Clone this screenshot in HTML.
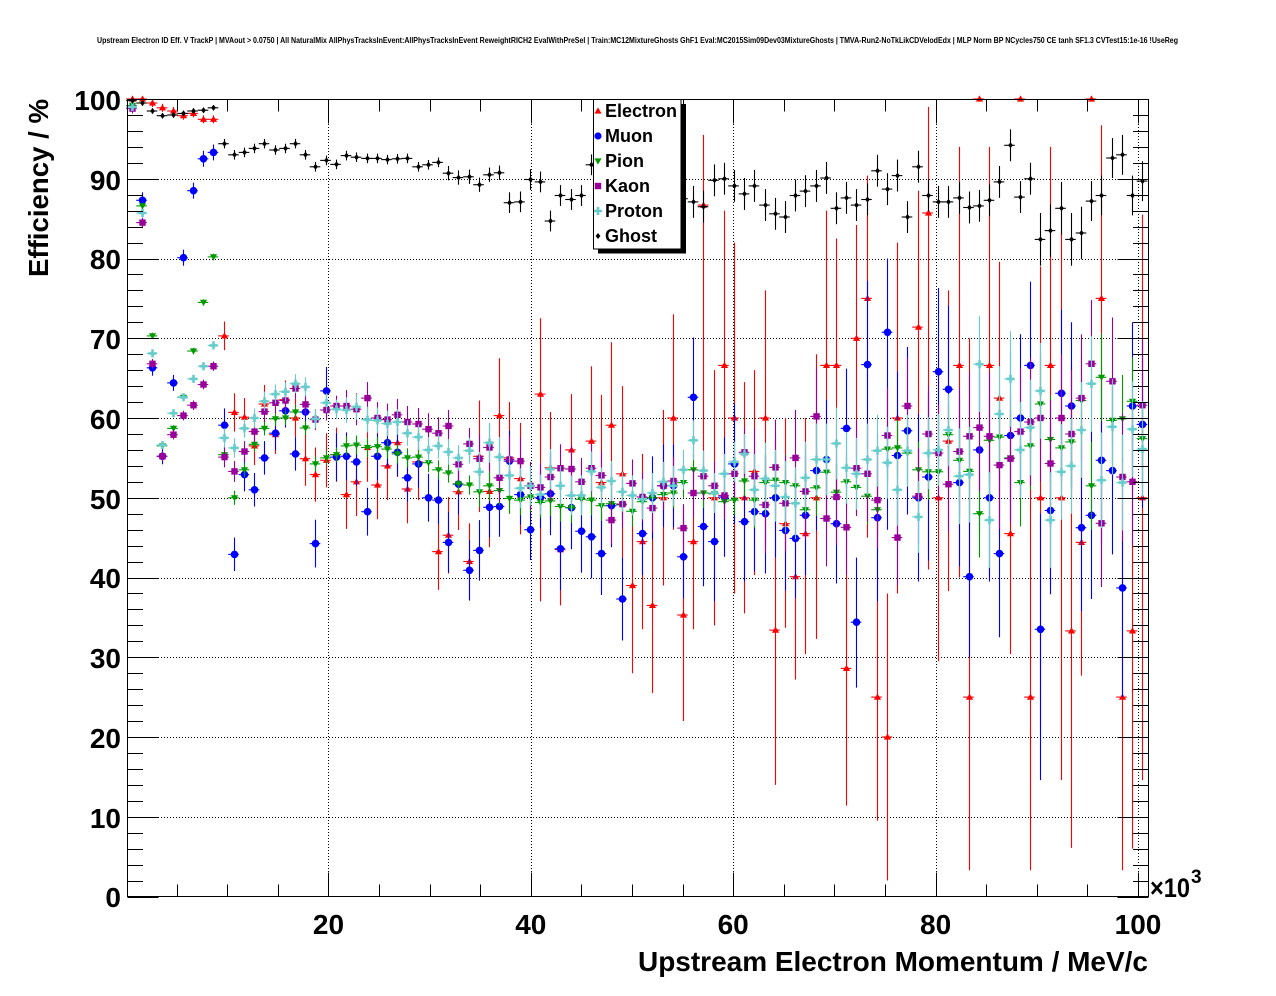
<!DOCTYPE html>
<html>
<head>
<meta charset="utf-8">
<style>
  html,body{margin:0;padding:0;background:#fff;}
  svg{display:block;}
  text{font-family:"Liberation Sans",Arial,Helvetica,sans-serif;font-weight:bold;fill:#000;}
  .g{stroke:#000;stroke-width:1;stroke-dasharray:1 2;fill:none;}
</style>
</head>
<body>
<svg id="c" width="1276" height="996" viewBox="0 0 1276 996" xmlns="http://www.w3.org/2000/svg">
  <rect x="0" y="0" width="1276" height="996" fill="#fff"/>
  <text x="637.5" y="43" font-size="8" text-anchor="middle" textLength="1081" lengthAdjust="spacingAndGlyphs">Upstream Electron ID Eff. V TrackP | MVAout &gt; 0.0750 | All NaturalMix AllPhysTracksInEvent:AllPhysTracksInEvent ReweightRICH2 EvalWithPreSel | Train:MC12MixtureGhosts GhF1 Eval:MC2015Sim09Dev03MixtureGhosts | TMVA-Run2-NoTkLikCDVelodEdx | MLP Norm BP NCycles750 CE tanh SF1.3 CVTest15:1e-16 !UseReg</text>
  <g id="grid"></g>
  <g id="data"></g>
  <g id="axes"></g>

  <!-- y tick labels -->
  <g font-size="28" text-anchor="end">
    <text x="121" y="110">100</text>
    <text x="121" y="190">90</text>
    <text x="121" y="269">80</text>
    <text x="121" y="349">70</text>
    <text x="121" y="429">60</text>
    <text x="121" y="509">50</text>
    <text x="121" y="588">40</text>
    <text x="121" y="668">30</text>
    <text x="121" y="748">20</text>
    <text x="121" y="828">10</text>
    <text x="121" y="907">0</text>
  </g>
  <!-- x tick labels -->
  <g font-size="28" text-anchor="middle">
    <text x="328.5" y="934">20</text>
    <text x="530.8" y="934">40</text>
    <text x="733.2" y="934">60</text>
    <text x="935.6" y="934">80</text>
    <text x="1138" y="934">100</text>
  </g>
  <text x="1150" y="897" font-size="27" textLength="40" lengthAdjust="spacingAndGlyphs">×10</text>
  <text x="1191" y="883" font-size="19">3</text>
  <text x="1148" y="971" font-size="28" text-anchor="end" textLength="510" lengthAdjust="spacingAndGlyphs">Upstream Electron Momentum / MeV/c</text>
  <text transform="translate(48,99) rotate(-90)" font-size="28" text-anchor="end" textLength="178" lengthAdjust="spacingAndGlyphs">Efficiency / %</text>

  <!-- legend -->
  <rect x="598" y="104" width="88" height="149.5" fill="#000"/>
  <rect x="593.5" y="99.5" width="87.5" height="149.5" fill="#fff" stroke="#000" stroke-width="1"/>
  <polygon points="598,107.4 601.6,113.6 594.4,113.6" fill="#ff0000"/>
  <circle cx="598" cy="136" r="3.6" fill="#0000ff"/>
  <polygon points="594.4,158.4 601.6,158.4 598,164.6" fill="#009900"/>
  <rect x="594.8" y="182.8" width="6.4" height="6.4" fill="#990099"/>
  <path d="M596.7,207 h2.6 v2.7 h2.7 v2.6 h-2.7 v2.7 h-2.6 v-2.7 h-2.7 v-2.6 h2.7 z" fill="#66cccc"/>
  <polygon points="598,233 600.4,236 598,239 595.6,236" fill="#000"/>
  <g font-size="18">
    <text x="605" y="117">Electron</text>
    <text x="605" y="142">Muon</text>
    <text x="605" y="167">Pion</text>
    <text x="605" y="192">Kaon</text>
    <text x="605" y="217">Proton</text>
    <text x="605" y="242">Ghost</text>
  </g>
</svg>
<script>
(function(){
  var xi=function(i){return 131.5+10.207*i;};
  var yv=function(v){return 896.5-7.975*v;};
  var s='';
  for(var v=10;v<100;v+=10){var y=Math.round(yv(v))+0.5;s+='<line x1="128" y1="'+y+'" x2="1148" y2="'+y+'" class="g"/>';}
  for(var p=20;p<=100;p+=20){var x=Math.round(126+10.12*p)+0.5;s+='<line x1="'+x+'" y1="100" x2="'+x+'" y2="896" class="g"/>';}
  document.getElementById('grid').innerHTML=s;

  var E=[100,100,99.5,98.9,98.5,97.9,98.2,97.45,97.45,70.3,
  60.7,60.1,56.5,61.75,57.9,62.3,60.0,54.9,52.9,54.7,
  55.4,50.4,52.0,56.3,51.6,54.0,56.9,51.1,54.5,null,
  43.25,45.3,50.75,42.0,55.2,50.8,60.3,55.0,52.4,null,
  63.0,53.75,43.5,56.0,null,57.1,51.9,59.1,53.0,39.0,
  44.5,36.5,50.0,60.0,35.3,44.5,86.7,50.0,66.6,60.0,
  50.0,53.3,60.0,33.4,46.75,40.1,45.5,50.0,66.6,66.6,
  28.6,70.0,75.0,25.0,20.0,60.0,null,71.4,85.7,50.0,
  57.1,66.6,25.0,100,66.6,62.5,45.5,100,25.0,50.0,
  66.6,50.0,33.3,44.4,100,75.0,null,25.0,33.3,50.0];
  var M=[99.0,87.3,66.3,55.2,64.4,80.1,88.5,92.5,93.3,59.1,
  42.9,52.9,51.0,55.0,58.1,60.9,55.5,60.75,44.25,63.4,
  55.1,55.2,54.5,48.25,55.2,56.9,55.7,52.5,54.25,50.0,
  49.7,44.4,51.7,40.9,43.4,48.8,48.9,54.6,50.4,46.0,
  50.0,50.5,43.6,48.75,45.8,45.1,43.0,49.0,37.3,null,
  45.5,50.0,51.5,51.5,42.6,62.6,46.4,44.5,50.1,54.25,
  47.0,48.25,48.0,50.0,45.9,44.9,47.8,53.4,54.8,46.75,
  58.7,34.4,66.7,47.5,70.75,55.3,58.4,50.0,52.6,65.8,
  63.6,51.9,40.1,56.0,50.0,43.0,57.8,60.0,66.6,33.5,
  48.4,63.1,61.5,46.25,47.8,54.7,53.4,38.7,61.5,59.2];
  var P=[99.2,86.6,70.3,56.5,58.7,62.6,68.4,74.5,80.2,55.4,
  50.0,53.5,56.7,58.7,59.9,60.0,60.75,58.75,54.25,55.0,
  55.4,56.5,56.6,56.3,56.4,56.1,55.5,55.0,55.1,54.4,
  53.5,53.1,51.75,51.6,50.75,51.5,50.9,49.9,49.7,50.1,
  49.4,49.6,48.9,48.75,49.8,49.7,49.0,49.25,49.1,48.3,
  49.5,50.0,50.4,50.6,51.9,53.5,50.6,50.5,49.5,49.7,
  52.1,49.7,51.9,52.2,51.9,51.5,48.5,51.25,53.2,50.7,
  52.0,51.3,50.2,48.5,56.1,56.25,55.6,53.5,53.25,53.25,
  57.9,54.7,53.3,48.0,57.2,57.6,55.0,51.9,56.5,61.75,
  57.3,56.25,57.0,62.2,51.5,65.1,59.7,59.9,62.1,57.4];
  var K=[98.8,84.5,66.8,55.2,57.9,60.3,61.6,64.2,66.5,55.1,
  53.3,55.8,58.3,60.8,61.9,62.2,63.7,61.7,59.8,61.0,
  61.5,61.5,61.1,62.5,60.0,59.8,60.4,59.5,59.25,58.6,
  58.1,59.0,54.2,56.75,54.9,56.3,52.5,54.8,54.6,51.5,
  51.3,52.6,53.7,53.6,52.0,53.7,52.8,47.2,49.2,51.8,
  50.1,48.7,51.5,52.1,46.2,50.6,52.7,51.5,50.3,53.0,
  55.7,52.7,49.1,53.8,49.3,55.0,50.8,60.2,47.4,50.1,
  46.3,53.7,53.0,49.7,57.8,45.0,61.5,50.2,58.0,55.6,
  51.7,55.8,57.7,58.8,57.7,54.1,54.9,58.3,59.5,60.0,
  54.3,60.0,58.0,62.5,66.8,46.8,64.6,52.6,52.0,61.6];
  var R=[99.0,85.7,68.1,56.6,60.6,62.6,64.9,66.5,69.1,57.5,
  56.25,58.7,60.0,62.1,63.0,63.3,64.3,63.9,59.9,61.9,
  61.1,61.0,61.4,59.8,59.7,59.3,59.5,58.1,57.6,56.0,
  56.5,55.75,55.0,55.9,53.25,56.9,55.1,52.8,51.2,51.5,
  50.4,53.6,51.5,50.3,50.3,53.3,51.3,52.1,50.75,50.3,
  49.8,50.6,52.0,51.5,53.5,57.2,53.4,50.6,53.0,54.5,
  55.5,51.0,52.4,51.5,50.1,49.3,52.5,54.8,54.8,56.8,
  53.75,53.0,54.8,55.9,54.4,51.0,55.9,47.6,55.6,56.0,
  58.5,52.7,52.9,66.75,47.2,60.5,64.9,56.0,58.8,63.4,
  47.2,53.25,54.0,58.5,64.3,52.2,58.9,51.9,58.6,56.1];
  var G=[99.8,99.5,98.5,97.9,98.0,98.2,98.5,98.6,98.9,94.4,
  93.0,93.3,93.8,94.4,93.6,93.8,94.4,93.0,91.5,92.3,
  91.8,92.9,92.7,92.55,92.55,92.4,92.5,92.55,91.5,91.75,
  92.05,90.7,90.15,90.25,89.25,90.5,90.75,87.0,87.1,89.9,
  89.6,84.7,87.9,87.4,87.9,91.75,88,88,88,88,
  88,88,88,88,87.5,87.1,86.5,89.8,90.0,89.1,
  88.1,89.1,86.7,85.6,85.2,87.9,88.45,89.1,90.1,86.3,
  87.6,86.7,87.4,91.0,88.7,90.4,85.2,91.5,87.9,87.1,
  87.1,87.6,86.4,86.6,87.3,89.6,94.2,87.7,90.0,82.4,
  83.5,86.3,82.4,83.2,87.2,87.9,92.6,93.0,87.9,89.7];

  var eE=function(i){return i<9?0.5:i==9?1.8:i<17?2.4:i<21?3.4:i<28?4.3:i<34?4.8:i<46?7:i<56?11:i<68?16:22;};
  var oE={0:[99.5,100],1:[99.5,100],9:[68.5,72.1],36:[52.7,67.5],40:[37,72.5],45:[48,66.5],47:[47.5,69.5],53:[46,73],54:[22,49],56:[40,95.5],
    58:[47,86],59:[38,82],60:[35.5,64.5],61:[40.3,66],63:[14,55],64:[33.7,60],65:[27.2,53],66:[30.4,60],67:[32.3,68],
    68:[47,86],69:[50,82.5],70:[11.4,47],71:[55,84.2],72:[45,90.4],73:[9.5,55],
    74:[2,38],75:[38,82],77:[50,88.5],78:[41,99],79:[29.5,70],80:[38.3,76],81:[40,94],82:[3.3,70],83:[100,100],84:[40,94],85:[45,79.6],
    86:[30.4,61],87:[100,100],88:[3.3,60],89:[21,79],90:[39,94],91:[14.6,83.3],92:[6.1,67],93:[27.7,61],94:[100,100],95:[40,96.7],
    97:[3.3,55],98:[6,62],99:[14.6,85.5]};
  var eM=function(i){return i<9?(i==0?0.5:1.0):i<18?2.1:i<31?3.0:i<41?3.8:i<55?5.2:i<71?7.5:10.5;};
  var oM={71:[26.2,42.5],74:[46,80],82:[30,50],89:[14.6,48],97:[25,45.2]};
  var eP=function(i){return i<9?0.4:i<21?0.9:i<34?1.2:i<61?1.9:i<81?3.5:5.5;};
  var eK=function(i){return i<9?0.6:i<21?1.3:i<34?2:i<61?3:i<81?6:8;};
  var eR=function(i){return i<9?0.5:i<21?1.2:i<34?1.6:i<61?2.5:i<81?4.5:6;};
  var eG=function(i){return i<9?0.35:i<31?0.6:i<37?0.9:i<54?1.3:i<89?2.0:i<94?3.3:2.5;};

  function mk(t,x,y,c){
    switch(t){
      case 'E': return '<polygon points="'+x+','+(y-3.6)+' '+(x+3.6)+','+(y+2.6)+' '+(x-3.6)+','+(y+2.6)+'" fill="'+c+'"/>';
      case 'M': return '<circle cx="'+x+'" cy="'+y+'" r="3.8" fill="'+c+'"/>';
      case 'P': return '<polygon points="'+(x-3.6)+','+(y-2.6)+' '+(x+3.6)+','+(y-2.6)+' '+x+','+(y+3.6)+'" fill="'+c+'"/>';
      case 'K': return '<rect x="'+(x-3.2)+'" y="'+(y-3.2)+'" width="6.4" height="6.4" fill="'+c+'"/>';
      case 'R': return '<path d="M'+(x-1.3)+','+(y-4)+' h2.6 v2.7 h2.7 v2.6 h-2.7 v2.7 h-2.6 v-2.7 h-2.7 v-2.6 h2.7 z" fill="'+c+'"/>';
      case 'G': return '<polygon points="'+x+','+(y-3)+' '+(x+2.4)+','+y+' '+x+','+(y+3)+' '+(x-2.4)+','+y+'" fill="'+c+'"/>';
    }
    return '';
  }
  var series=[
    {t:'E',c:'#ff0000',d:E,e:eE,o:oE},
    {t:'M',c:'#0000ff',d:M,e:eM,o:oM},
    {t:'P',c:'#009900',d:P,e:eP,o:{}},
    {t:'K',c:'#990099',d:K,e:eK,o:{}},
    {t:'R',c:'#66cccc',d:R,e:eR,o:{}},
    {t:'G',c:'#000000',d:G,e:eG,o:{}}
  ];
  var out='';
  series.forEach(function(S){
    var lines='',marks='';
    for(var i=0;i<100;i++){
      var v=S.d[i]; if(v===null||v===undefined) continue;
      var lo,hi;
      if(S.o[i]){lo=S.o[i][0];hi=S.o[i][1];}
      else{var e=S.e(i);lo=v-e;hi=v+e;}
      if(lo<0)lo=0; if(hi>100)hi=100;
      var x=Math.round(xi(i)*2)/2, y=+yv(v).toFixed(1);
      var xl=Math.round(x)+0.5;
      lines+='<line x1="'+(x-5.3).toFixed(1)+'" y1="'+y+'" x2="'+(x+5.3).toFixed(1)+'" y2="'+y+'"/>';
      if(hi-lo>0.01) lines+='<line x1="'+xl+'" y1="'+yv(hi).toFixed(1)+'" x2="'+xl+'" y2="'+yv(lo).toFixed(1)+'"/>';
      marks+=mk(S.t,xl,y,S.c);
    }
    out+='<g stroke="'+S.c+'" stroke-width="1.1" fill="none">'+lines+'</g>'+marks;
  });
  document.getElementById('data').innerHTML=out;

  var a='<rect x="127.5" y="99.5" width="1021" height="797" fill="none" stroke="#000" stroke-width="1"/>';
  var t='';
  for(var k=0;k<=50;k++){
    var vv=k*2, yy=Math.round(yv(vv))+0.5, L=(k%5==0)?31:15.5;
    t+='M127.5,'+yy+'h'+L+'M1148.5,'+yy+'h-'+L;
  }
  for(var q=0;q<=20;q++){
    var pp=q*5, xx=Math.round(126+10.12*pp)+0.5, H=(q%4==0)?24:12;
    if(xx<128) continue;
    t+='M'+xx+',896.5v-'+H+'M'+xx+',99.5v'+H;
  }
  a+='<path d="'+t+'" stroke="#000" stroke-width="1" fill="none"/>';
  document.getElementById('axes').innerHTML=a;
})();
</script>
</body>
</html>
